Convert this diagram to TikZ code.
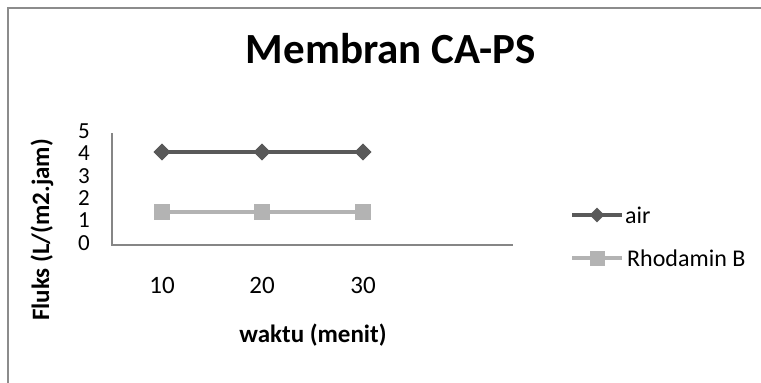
\documentclass[tikz,border=0pt]{standalone}
\usepackage{fontspec}
\setmainfont{Carlito}
\usetikzlibrary{shapes.geometric}
\definecolor{framegray}{HTML}{8C8C8C}
\definecolor{axisgray}{HTML}{868686}
\definecolor{airgray}{HTML}{595959}
\definecolor{rhogray}{HTML}{B3B3B3}
\tikzset{
  diam/.style={diamond,fill=airgray,inner sep=0pt,minimum width=17pt,minimum height=17pt},
  sq/.style={rectangle,fill=rhogray,inner sep=0pt,minimum size=16pt},
  airline/.style={draw=airgray,line width=3.5pt},
  rholine/.style={draw=rhogray,line width=3.5pt},
  ticklab/.style={font=\fontsize{25}{25}\selectfont,inner sep=0pt},
  yticklab/.style={font=\fontsize{23}{23}\selectfont,inner sep=0pt,text height=14.5pt,text depth=0pt},
  axtitle/.style={font=\fontsize{25}{25}\selectfont\bfseries,inner sep=0pt},
  legtext/.style={font=\fontsize{24}{24}\selectfont,inner sep=0pt,anchor=west},
}
\begin{document}
\begin{tikzpicture}[x=1pt,y=-1pt]
\useasboundingbox (0,0) rectangle (761,383);
% frame
\coordinate (fbl) at (8,383);
\coordinate (ftl) at (8,8);
\coordinate (ftr) at (761,8);
\draw[framegray,line width=1.5pt] (fbl) -- (ftl) -- (ftr);
% title
\node[font=\fontsize{43}{43}\selectfont\bfseries,inner sep=0pt] (title) at (391,49) {Membran CA-PS};
% axes
\coordinate (ytop) at (112,133);
\coordinate (orig) at (112,245);
\coordinate (xend) at (513,245);
\draw[axisgray,line width=1.5pt] (ytop) -- (orig) -- (xend);
% y tick labels
\foreach \v in {0,...,5} {
  \node[yticklab] (y\v) at (84,{243-22.4*\v}) {\v};
}
% x tick labels
\node[ticklab] (x10) at (162,285) {10};
\node[ticklab] (x20) at (262,285) {20};
\node[ticklab] (x30) at (363,285) {30};
% axis titles
\node[axtitle,rotate=90] (ytitle) at (42,230) {Fluks (L/(m2.jam)};
\node[axtitle] (xtitle) at (313,335) {waktu (menit)};
% data
\node[diam] (a1) at (162,152) {};
\node[diam] (a2) at (262,152) {};
\node[diam] (a3) at (363,152) {};
\node[sq] (r1) at (162,212) {};
\node[sq] (r2) at (262,212) {};
\node[sq] (r3) at (363,212) {};
\draw[rholine] (r1.center) -- (r2.center) -- (r3.center);
\draw[airline] (a1.center) -- (a2.center) -- (a3.center);
\node[sq] at (r1) {};
\node[sq] at (r2) {};
\node[sq] at (r3) {};
\node[diam] at (a1) {};
\node[diam] at (a2) {};
\node[diam] at (a3) {};
% legend
\coordinate (la0) at (572,215);
\coordinate (la1) at (622,215);
\draw[airline] (la0) -- (la1);
\node[diam,minimum width=15pt,minimum height=15pt] (lad) at (597,215) {};
\node[legtext] (lat) at (625,215) {air};
\coordinate (lr0) at (572,258);
\coordinate (lr1) at (622,258);
\draw[rholine] (lr0) -- (lr1);
\node[sq,minimum size=15pt] (lrs) at (597,258) {};
\node[legtext] (lrt) at (627,258) {Rhodamin B};
\end{tikzpicture}
\end{document}
